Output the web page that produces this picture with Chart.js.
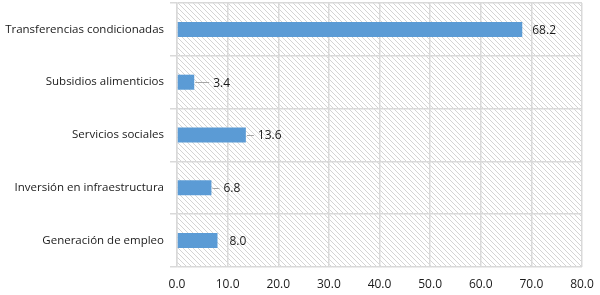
<!DOCTYPE html>
<html>
<head>
<meta charset="utf-8">
<script src="https://cdn.jsdelivr.net/npm/chart.js@4"></script>
<style>
html,body{margin:0;padding:0;background:#fff;}
#wrap{width:600px;height:295px;position:relative;}
</style>
</head>
<body>
<div id="wrap"><canvas id="c" width="600" height="295"></canvas></div>
<script>
const categories = [
  "Transferencias condicionadas",
  "Subsidios alimenticios",
  "Servicios sociales",
  "Inversión en infraestructura",
  "Generación de empleo"
];
const values = [68.2, 3.4, 13.6, 6.8, 8.0];
const xTicks = [0, 10, 20, 30, 40, 50, 60, 70, 80];

// label placement style (not data)
const labelGap = [10, 19, 12, 12, 12];
const leader = [false, true, true, true, false];

const FONT = "'Open Sans', 'Noto Sans', sans-serif";

function makeHatch(ctx) {
  const p = document.createElement('canvas');
  p.width = 5; p.height = 5;
  const g = p.getContext('2d');
  g.fillStyle = '#ffffff';
  g.fillRect(0, 0, 5, 5);
  g.strokeStyle = '#d4d4d4';
  g.lineWidth = 1;
  g.beginPath();
  g.moveTo(-1, -1); g.lineTo(6, 6);
  g.moveTo(-1, 4); g.lineTo(1, 6);
  g.moveTo(4, -1); g.lineTo(6, 1);
  g.stroke();
  return ctx.createPattern(p, 'repeat');
}

const hatchPlugin = {
  id: 'hatch',
  beforeDraw(chart) {
    const {ctx, chartArea: a} = chart;
    ctx.save();
    ctx.fillStyle = makeHatch(ctx);
    ctx.fillRect(a.left, a.top, a.right - a.left, a.bottom - a.top);
    ctx.restore();
  }
};

const labelPlugin = {
  id: 'vlabels',
  afterDatasetsDraw(chart) {
    const ctx = chart.ctx;
    const meta = chart.getDatasetMeta(0);
    ctx.save();
    ctx.font = "12px " + FONT;
    ctx.textBaseline = 'middle';
    ctx.textAlign = 'left';
    meta.data.forEach((el, i) => {
      const v = chart.data.datasets[0].data[i];
      const x0 = el.x;
      const tx = x0 + labelGap[i];
      if (leader[i]) {
        ctx.strokeStyle = '#a6a6a6';
        ctx.lineWidth = 1;
        ctx.beginPath();
        ctx.moveTo(x0 + 1, Math.round(el.y) + 0.5);
        ctx.lineTo(tx - 4, Math.round(el.y) + 0.5);
        ctx.stroke();
      }
      ctx.fillStyle = '#1a1a1a';
      ctx.fillText(v.toFixed(1), tx, el.y + 1);
    });
    ctx.restore();
  }
};

new Chart(document.getElementById('c'), {
  type: 'bar',
  data: {
    labels: categories,
    datasets: [{
      data: values,
      backgroundColor: '#5b9bd5',
      borderWidth: 0,
      categoryPercentage: 1,
      barPercentage: 0.285
    }]
  },
  options: {
    indexAxis: 'y',
    responsive: false,
    animation: false,
    devicePixelRatio: 1,
    layout: {padding: {top: 3, right: 18, left: 0, bottom: 0}},
    plugins: {legend: {display: false}, tooltip: {enabled: false}},
    scales: {
      x: {
        min: 0, max: 80,
        afterBuildTicks(scale) { scale.ticks = xTicks.map(v => ({value: v})); },
        afterFit(scale) {
          scale.height = 28;
          scale.paddingLeft = 0; scale.paddingRight = 0;
        },
        grid: {color: '#d9d9d9', lineWidth: 1.5, drawTicks: false},
        border: {display: false},
        ticks: {
          padding: 10,
          color: '#1a1a1a',
          font: {family: FONT, size: 12},
          callback: v => Number(v).toFixed(1)
        }
      },
      y: {
        afterFit(scale) {
          scale.width = 177;
          scale.paddingTop = 0; scale.paddingBottom = 0;
        },
        grid: {color: '#d9d9d9', lineWidth: 1.5, offset: true, tickLength: 7},
        border: {display: true, color: '#d9d9d9', width: 1.5},
        ticks: {
          padding: 6,
          color: '#1a1a1a',
          font: {family: FONT, size: 11.5}
        }
      }
    }
  },
  plugins: [hatchPlugin, labelPlugin]
});
</script>
</body>
</html>
